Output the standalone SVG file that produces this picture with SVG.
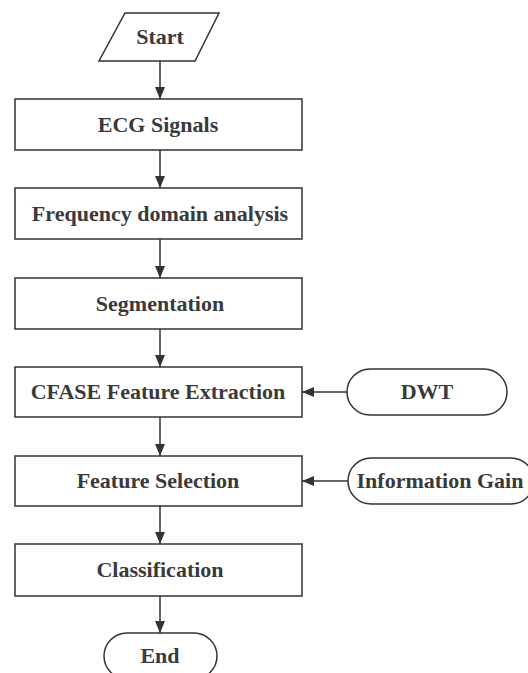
<svg xmlns="http://www.w3.org/2000/svg" width="528" height="673" viewBox="0 0 528 673">
<defs>
<style>
.n{fill:#fff;stroke:#333;stroke-width:1.5}
.t{font-family:"Liberation Serif","Times New Roman",serif;font-weight:bold;font-size:22px;fill:#3a3a3a;text-anchor:middle}
.c{stroke:#333;stroke-width:1.5;fill:none}
</style>
<marker id="ah" markerUnits="userSpaceOnUse" markerWidth="12" markerHeight="12" viewBox="0 0 12 10" refX="12" refY="5" orient="auto">
<path d="M0,0 L12,5 L0,10 Z" fill="#333"/>
</marker>
</defs>
<rect width="528" height="673" fill="#fff"/>
<g id="connectors">
<line class="c" x1="160" y1="61" x2="160" y2="99" marker-end="url(#ah)"/>
<line class="c" x1="160" y1="150" x2="160" y2="188" marker-end="url(#ah)"/>
<line class="c" x1="160" y1="239" x2="160" y2="278" marker-end="url(#ah)"/>
<line class="c" x1="160" y1="329" x2="160" y2="367" marker-end="url(#ah)"/>
<line class="c" x1="160" y1="417" x2="160" y2="456" marker-end="url(#ah)"/>
<line class="c" x1="160" y1="506" x2="160" y2="544" marker-end="url(#ah)"/>
<line class="c" x1="160" y1="596" x2="160" y2="633" marker-end="url(#ah)"/>
<line class="c" x1="347" y1="392" x2="302" y2="392" marker-end="url(#ah)"/>
<line class="c" x1="348" y1="481" x2="302" y2="481" marker-end="url(#ah)"/>
</g>
<g id="start">
<polygon class="n" points="125,13 219,13 195,61 99,61"/>
<text class="t" x="160" y="44">Start</text>
</g>
<g id="ecg">
<rect class="n" x="15" y="99" width="287" height="51"/>
<text class="t" x="158" y="132">ECG Signals</text>
</g>
<g id="freq">
<rect class="n" x="15" y="188" width="287" height="51"/>
<text class="t" x="160" y="221">Frequency domain analysis</text>
</g>
<g id="seg">
<rect class="n" x="15" y="278" width="287" height="51"/>
<text class="t" x="160" y="311">Segmentation</text>
</g>
<g id="cfase">
<rect class="n" x="15" y="367" width="287" height="50"/>
<text class="t" x="158" y="399">CFASE Feature Extraction</text>
</g>
<g id="dwt">
<rect class="n" x="347" y="369" width="160" height="46" rx="23" ry="23"/>
<text class="t" x="427" y="399">DWT</text>
</g>
<g id="fsel">
<rect class="n" x="15" y="456" width="287" height="50"/>
<text class="t" x="158" y="488">Feature Selection</text>
</g>
<g id="ig">
<rect class="n" x="348" y="458" width="186" height="46" rx="23" ry="23"/>
<text class="t" x="440" y="488">Information Gain</text>
</g>
<g id="cls">
<rect class="n" x="15" y="544" width="287" height="52"/>
<text class="t" x="160" y="577">Classification</text>
</g>
<g id="end">
<rect class="n" x="104" y="633" width="113" height="46" rx="23" ry="23"/>
<text class="t" x="160" y="663">End</text>
</g>
</svg>
